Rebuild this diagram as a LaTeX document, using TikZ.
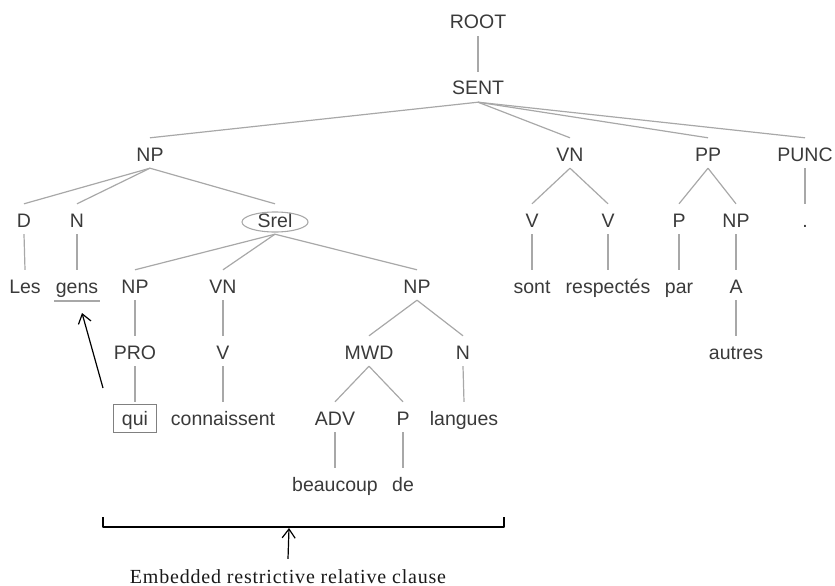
\documentclass[tikz,border=0pt]{standalone}
\usepackage{fontspec}
\setmainfont{Liberation Sans}
\newfontfamily\labfont[LetterSpace=4]{Liberation Serif}
\usetikzlibrary{arrows.meta}
\definecolor{txt}{HTML}{3A3A3A}
\definecolor{edgegray}{HTML}{A8A8A8}
\tikzset{
  lbl/.style={anchor=base, inner sep=0pt, text height=23pt, text depth=7pt,
    text=txt, font=\fontsize{19.5}{23}\selectfont},
  tedge/.style={draw=edgegray, line width=1.2pt},
  blackarrow/.style={draw=black, line width=1.2pt, -{Straight Barb[length=9pt,width=13pt,line width=1.2pt]}},
}
\begin{document}
\begin{tikzpicture}[x=1pt,y=-1pt]
\useasboundingbox (0,0) rectangle (835,586);
% nodes
\node[lbl] (root) at (478,29) {ROOT};
\node[lbl] (sent) at (478,95) {SENT};
\node[lbl] (np1) at (150,161) {NP};
\node[lbl] (vn1) at (570,161) {VN};
\node[lbl] (pp) at (708,161) {PP};
\node[lbl] (punc) at (805,161) {PUNC};
\node[lbl] (d) at (24,227) {D};
\node[lbl] (n1) at (77,227) {N};
\node[lbl] (srel) at (275,227) {Srel};
\node[lbl] (v1) at (532,227) {V};
\node[lbl] (v2) at (608,227) {V};
\node[lbl] (p1) at (679,227) {P};
\node[lbl] (np2) at (736,227) {NP};
\node[lbl] (dot) at (805,227) {.};
\node[lbl] (les) at (25,293) {Les};
\node[lbl] (gens) at (77,293) {gens};
\node[lbl] (np3) at (135,293) {NP};
\node[lbl] (vn2) at (223,293) {VN};
\node[lbl] (np4) at (417,293) {NP};
\node[lbl] (sont) at (532,293) {sont};
\node[lbl] (resp) at (608,293) {respectés};
\node[lbl] (par) at (679,293) {par};
\node[lbl] (a) at (736,293) {A};
\node[lbl] (pro) at (135,359) {PRO};
\node[lbl] (v3) at (223,359) {V};
\node[lbl] (mwd) at (369,359) {MWD};
\node[lbl] (n2) at (463,359) {N};
\node[lbl] (autres) at (736,359) {autres};
\node[lbl] (qui) at (135,425) {qui};
\node[lbl] (conn) at (223,425) {connaissent};
\node[lbl] (adv) at (335,425) {ADV};
\node[lbl] (p2) at (403,425) {P};
\node[lbl] (langues) at (464,425) {langues};
\node[lbl] (beaucoup) at (335,491) {beaucoup};
\node[lbl] (de) at (403,491) {de};
% tree edges
\foreach \p/\c in {root/sent, sent/np1, sent/vn1, sent/pp, sent/punc,
  np1/d, np1/n1, np1/srel, vn1/v1, vn1/v2, pp/p1, pp/np2, punc/dot,
  d/les, n1/gens, srel/np3, srel/vn2, srel/np4, v1/sont, v2/resp, p1/par, np2/a,
  np3/pro, vn2/v3, np4/mwd, np4/n2, a/autres,
  pro/qui, v3/conn, mwd/adv, mwd/p2, n2/langues,
  adv/beaucoup, p2/de}
  \draw[tedge] (\p.south) -- (\c.north);
% decorations
\draw[draw=edgegray, line width=1.1pt] ([yshift=5pt]srel.base) ellipse (33pt and 10pt);
\draw[draw=gray, line width=1pt] ([xshift=-22pt,yshift=21pt]qui.base) rectangle ([xshift=21pt,yshift=-7pt]qui.base);
\draw[draw=edgegray, line width=1.5pt] ([xshift=-23pt,yshift=-8pt]gens.base) -- ([xshift=23pt,yshift=-8pt]gens.base);
\coordinate (gensul) at (82,313);
\coordinate (arrstart) at (103,388);
\draw[blackarrow] (arrstart) -- (gensul);
% brace
\coordinate (bl) at (103,517);
\coordinate (br) at (504,517);
\coordinate (bmid) at (289,528);
\draw[black, line width=1.2pt, line join=round] (bl) -- ++(0,10) -- ++(401,0) -- (br);
\node[anchor=base, inner sep=0pt, font=\labfont\fontsize{20}{24}\selectfont, text=black!90] (lab) at (288,583) {Embedded restrictive relative clause};
\draw[blackarrow] ([yshift=10pt]lab.north) -- (bmid);
\end{tikzpicture}
\end{document}
